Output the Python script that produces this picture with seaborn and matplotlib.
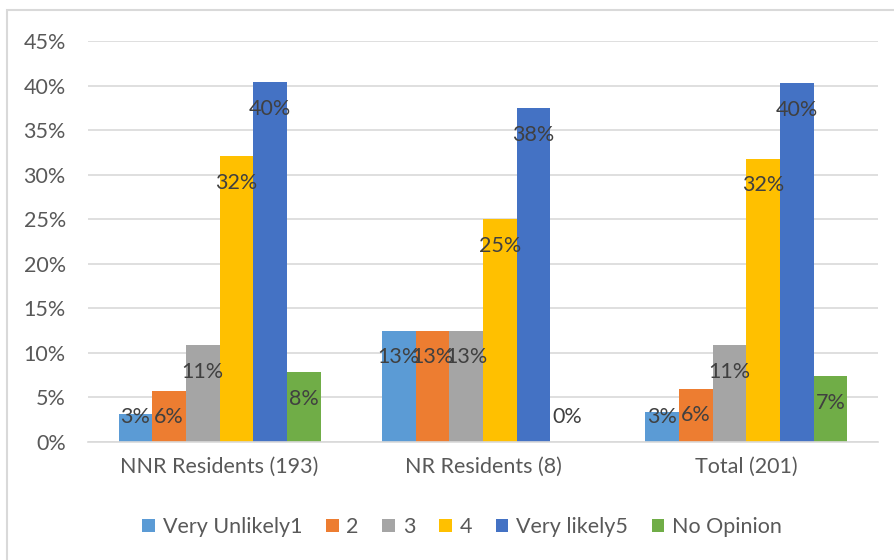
import math
import matplotlib
matplotlib.use("Agg")
import matplotlib.pyplot as plt
from matplotlib.patches import Rectangle, Patch
from matplotlib.ticker import FuncFormatter, MultipleLocator
import pandas as pd
import seaborn as sns

categories = ["NNR Residents (193)", "NR Residents (8)", "Total (201)"]
series = ["Very Unlikely1", "2", "3", "4", "Very likely5", "No Opinion"]
very_unlikely1 = [3.1, 12.5, 3.4]
two = [5.7, 12.5, 6.0]
three = [10.9, 12.5, 10.9]
four = [32.1, 25.0, 31.8]
very_likely5 = [40.4, 37.5, 40.3]
no_opinion = [7.8, 0.0, 7.4]
colors = ["#5B9BD5", "#ED7D31", "#A5A5A5", "#FFC000", "#4472C4", "#70AD47"]

values = [very_unlikely1, two, three, four, very_likely5, no_opinion]
rows = []
for s, vals in zip(series, values):
    for c, v in zip(categories, vals):
        rows.append({"category": c, "series": s, "value": v})
df = pd.DataFrame(rows)

sns.set_style("white")
plt.rcParams["font.family"] = ["Lato", "DejaVu Sans"]

fig = plt.figure(figsize=(8.95, 5.6), dpi=100)
ax = fig.add_axes([88 / 895, 1 - 442 / 560, 790 / 895, 401 / 560])

sns.barplot(data=df, x="category", y="value", hue="series", order=categories,
            hue_order=series, palette=colors, width=0.767, saturation=1,
            linewidth=0, errorbar=None, ax=ax, legend=False)

ax.set_ylim(0, 45)
ax.set_xlim(-0.5, 2.5)
ax.yaxis.set_major_locator(MultipleLocator(5))
ax.yaxis.set_major_formatter(FuncFormatter(lambda v, p: f"{int(round(v))}%"))
ax.grid(axis="y", color="#D9D9D9", linewidth=1.2)
ax.set_axisbelow(True)
for sp in ["top", "right", "left"]:
    ax.spines[sp].set_visible(False)
ax.spines["bottom"].set_color("#D9D9D9")
ax.spines["bottom"].set_linewidth(1.2)
ax.tick_params(axis="y", length=0, pad=16, labelsize=15.5, labelcolor="#595959")
ax.tick_params(axis="x", length=0, pad=11, labelsize=15.5, labelcolor="#595959")
ax.set_xlabel("")
ax.set_ylabel("")

for cont, vals in zip(ax.containers, values):
    for bar, v in zip(cont, vals):
        y = max(v - 3.0, 2.8)
        lbl = f"{int(math.floor(v + 0.5))}%"
        ax.text(bar.get_x() + bar.get_width() / 2, y, lbl, ha="center", va="center",
                fontsize=15.5, color="#404040")

handles = [Patch(facecolor=c, edgecolor="none") for c in colors]
fig.legend(handles, series, loc="center", bbox_to_anchor=(462 / 895, 1 - 527 / 560),
           ncol=6, frameon=False, fontsize=15.5, handlelength=0.6, handleheight=0.6,
           handletextpad=0.35, columnspacing=1.1, labelcolor="#595959")

fig.patches.append(Rectangle((7 / 895, -0.1), 1.2, 1 - 10 / 560 + 0.1,
                             transform=fig.transFigure, fill=False,
                             edgecolor="#D9D9D9", linewidth=1.5))

fig.savefig("out.png", dpi=100)
